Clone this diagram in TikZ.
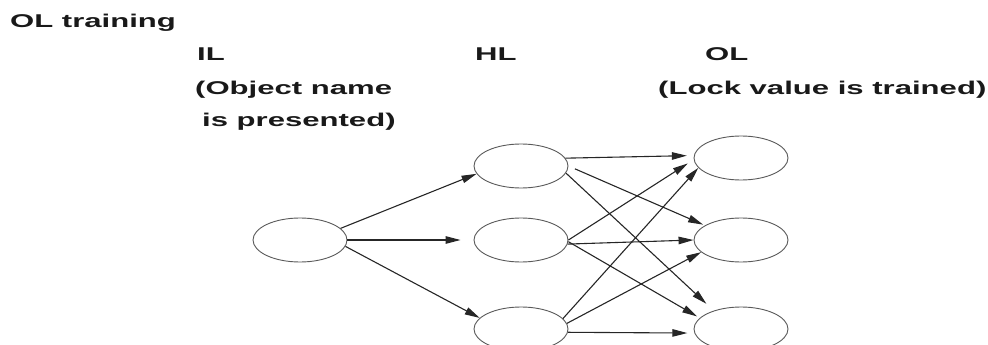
\documentclass[tikz,border=0pt]{standalone}
\usepackage{fontspec}
\usepackage{graphicx}
\setmainfont{Liberation Sans}
\usetikzlibrary{arrows.meta,shapes.geometric}
\newcommand\widetext[1]{\scalebox{1.68}[1]{#1}}
\tikzset{
  caption/.style={anchor=base west, inner sep=0pt, text=black!90,
    font=\fontsize{18.5}{20}\selectfont\bfseries},
  neuron/.style={draw=black!65, line width=0.9pt, ellipse,
    minimum width=94pt, minimum height=44pt, inner sep=0pt},
  link/.style={draw=black!85, line width=1.1pt,
    -{Triangle[length=15pt,width=7.5pt]}}
}
\begin{document}
\begin{tikzpicture}[x=1pt,y=-1pt]
\useasboundingbox (0,0) rectangle (988,345);
\clip (0,0) rectangle (988,345);

% headings
\node[caption] (title) at (10,28) {\widetext{OL training}};
\node[caption] (ilname) at (197,61) {\widetext{IL}};
\node[caption] (ilnote1) at (195,94) {\widetext{(Object name}};
\node[caption] (ilnote2) at (202,126) {\widetext{is presented)}};
\node[caption] (hlname) at (475,61) {\widetext{HL}};
\node[caption] (olname) at (705,61) {\widetext{OL}};
\node[caption] (olnote) at (658,94) {\widetext{(Lock value is trained)}};

% layers
\node[neuron] (i1) at (300,240) {};
\node[neuron] (h1) at (521,166) {};
\node[neuron] (h2) at (521,240) {};
\node[neuron] (h3) at (521,329) {};
\node[neuron] (o1) at (741,158) {};
\node[neuron] (o2) at (741,240) {};
\node[neuron] (o3) at (741,329) {};

% input to hidden
\draw[link] (i1.16) -- (h1.190);
\draw[link, shorten >=13pt] (i1.east) -- (h2.west);
\draw[link] (i1.-8) -- (h3.165);

% hidden to output
\draw[link, shorten >=7pt] (h1.10) -- (o1.177);
\draw[link, shorten <=7pt, shorten >=2pt] (h1.east) -- (o2.158);
\draw[link, shorten >=10pt] (h1.-9) -- (o3.146);

\draw[link, shorten >=7pt] (h2.east) -- (o1.182);
\draw[link] (h2.-5) -- (o2.west);
\draw[link, shorten >=3pt] (h2.-2) -- (o3.165);

\draw[link] (h3.14) -- (o1.193);
\draw[link] (h3.7) -- (o2.197);
\draw[link, shorten >=7pt] (h3.-4) -- (o3.185);
\end{tikzpicture}
\end{document}
